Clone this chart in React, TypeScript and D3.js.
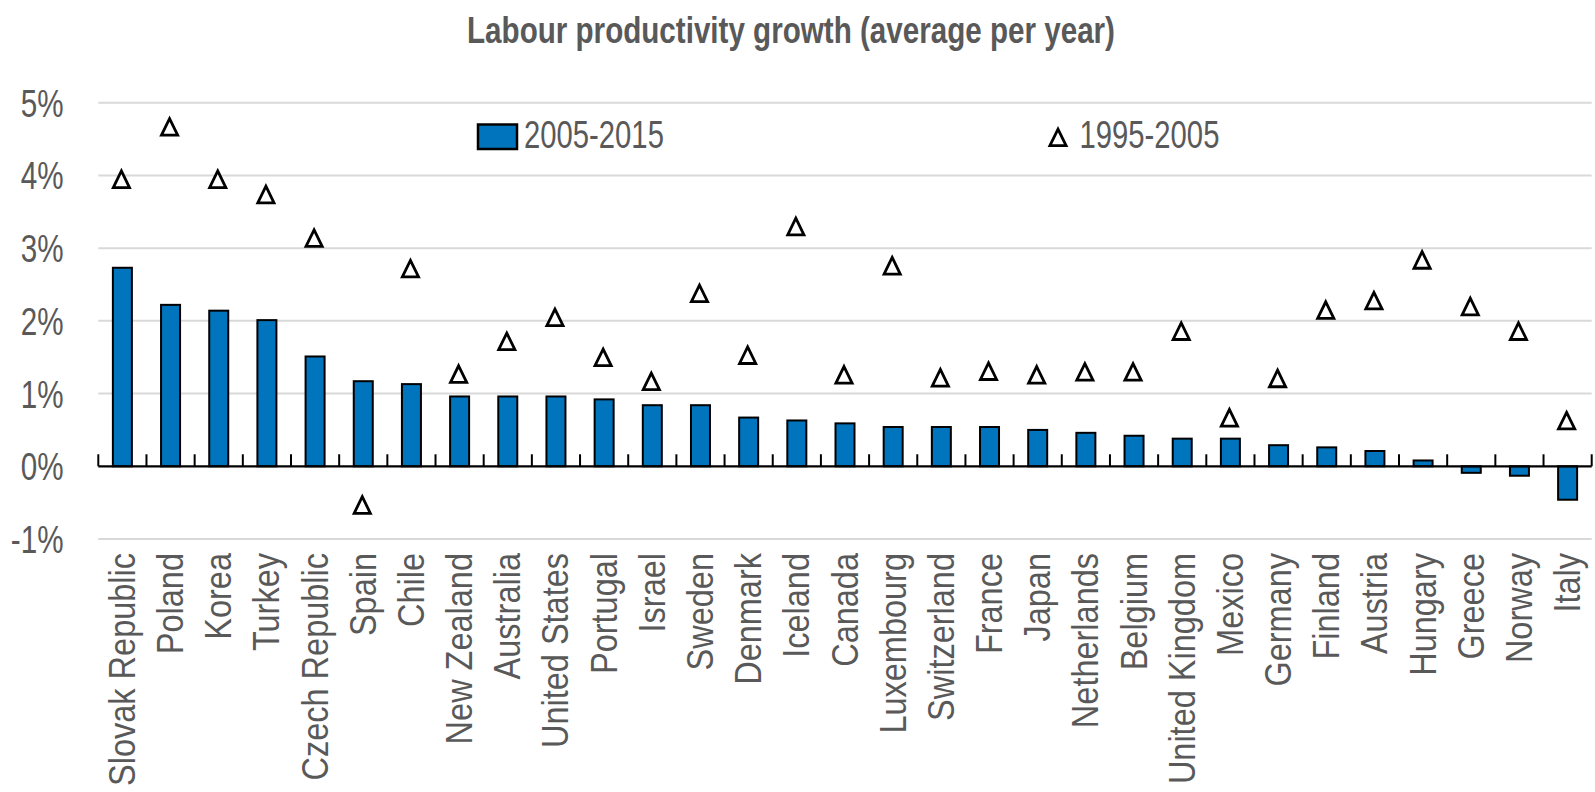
import React, { useEffect } from 'react';
import * as d3 from 'd3';

const categories = [
  'Slovak Republic', 'Poland', 'Korea', 'Turkey', 'Czech Republic', 'Spain', 'Chile',
  'New Zealand', 'Australia', 'United States', 'Portugal', 'Israel', 'Sweden', 'Denmark',
  'Iceland', 'Canada', 'Luxembourg', 'Switzerland', 'France', 'Japan', 'Netherlands',
  'Belgium', 'United Kingdom', 'Mexico', 'Germany', 'Finland', 'Austria', 'Hungary',
  'Greece', 'Norway', 'Italy',
];

const growth2005to2015 = [
  2.73, 2.22, 2.14, 2.01, 1.51, 1.17, 1.13, 0.96, 0.96, 0.96, 0.92, 0.84, 0.84, 0.67,
  0.63, 0.59, 0.54, 0.54, 0.54, 0.5, 0.46, 0.42, 0.38, 0.38, 0.29, 0.26, 0.21, 0.08,
  -0.09, -0.13, -0.46,
];

const growth1995to2005 = [
  3.96, 4.68, 3.96, 3.75, 3.15, -0.52, 2.73, 1.28, 1.73, 2.06, 1.51, 1.18, 2.39, 1.54,
  3.31, 1.27, 2.77, 1.23, 1.32, 1.27, 1.31, 1.31, 1.87, 0.68, 1.22, 2.16, 2.29, 2.85,
  2.21, 1.87, 0.64,
];

const yTicks = [-1, 0, 1, 2, 3, 4, 5];
const chartTitle = 'Labour productivity growth (average per year)';
const legendLabels = ['2005-2015', '1995-2005'];

const TEXT = '#595959';
const BAR = '#0075BE';
const FONT = '"Liberation Sans", Arial, sans-serif';

const triPath = 'M0,-7.4 L8.1,9.2 L-8.1,9.2 Z';

export default function App() {
  useEffect(() => {
    document.body.style.margin = '0';
    document.body.style.overflow = 'hidden';
  }, []);

  const W = 1595;
  const H = 792;
  const x = d3
    .scaleBand<string>()
    .domain(categories)
    .range([98.3, 1591.7])
    .paddingInner(0)
    .paddingOuter(0);
  const y = d3.scaleLinear().domain([-1, 5]).range([539, 102.7]);
  const bw = x.bandwidth();
  const barW = 19;
  const y0 = y(0);
  const boundaries = d3.range(categories.length + 1).map((i) => x.range()[0] + i * bw);

  return (
    <svg
      width={W}
      height={H}
      style={{ position: 'absolute', left: 0, top: 0, background: '#fff' }}
      fontFamily={FONT}
    >
      <rect x={0} y={0} width={W} height={H} fill="#fff" />
      {/* title */}
      <text
        transform={`translate(791,42.5) scale(0.8,1)`}
        textAnchor="middle"
        fontSize={37}
        fontWeight="bold"
        fill={TEXT}
      >
        {chartTitle}
      </text>

      {/* gridlines */}
      {yTicks
        .filter((t) => t !== 0)
        .map((t) => (
          <line
            key={'g' + t}
            x1={x.range()[0]}
            x2={x.range()[1]}
            y1={y(t)}
            y2={y(t)}
            stroke="#d9d9d9"
            strokeWidth={2}
          />
        ))}

      {/* y labels */}
      {yTicks.map((t) => (
        <text
          key={'yl' + t}
          transform={`translate(63.5,${y(t) + 14}) scale(0.76,1)`}
          textAnchor="end"
          fontSize={39}
          fill={TEXT}
        >
          {`${t}%`}
        </text>
      ))}

      {/* bars */}
      {categories.map((c, i) => {
        const v = growth2005to2015[i];
        const cx = (x(c) as number) + bw / 2;
        const top = Math.min(y(v), y0);
        const h = Math.abs(y(v) - y0);
        return (
          <rect
            key={'b' + c}
            x={cx - barW / 2}
            y={top}
            width={barW}
            height={h}
            fill={BAR}
            stroke="#000"
            strokeWidth={2}
          />
        );
      })}

      {/* axis */}
      <line x1={x.range()[0]} x2={x.range()[1]} y1={y0} y2={y0} stroke="#000" strokeWidth={2.2} />
      {boundaries.map((bx, i) => (
        <line key={'t' + i} x1={bx} x2={bx} y1={y0} y2={y0 - 12} stroke="#000" strokeWidth={2} />
      ))}

      {/* triangles */}
      {categories.map((c, i) => {
        const cx = (x(c) as number) + bw / 2;
        return (
          <path
            key={'m' + c}
            d={triPath}
            transform={`translate(${cx - 1},${y(growth1995to2005[i])})`}
            fill="#fff"
            stroke="#000"
            strokeWidth={2.8}
          />
        );
      })}

      {/* x labels */}
      {categories.map((c) => {
        const cx = (x(c) as number) + bw / 2;
        return (
          <text
            key={'xl' + c}
            transform={`translate(${cx + 12.5},553) rotate(-90) scale(0.89,1)`}
            textAnchor="end"
            fontSize={36.5}
            fill={TEXT}
          >
            {c}
          </text>
        );
      })}

      {/* legend */}
      <rect x={478} y={124.5} width={39} height={24.5} fill={BAR} stroke="#000" strokeWidth={2.5} />
      <text transform="translate(524,148) scale(0.76,1)" fontSize={38.5} fill={TEXT}>
        {legendLabels[0]}
      </text>
      <path d={triPath} transform="translate(1058,136.5)" fill="#fff" stroke="#000" strokeWidth={2.8} />
      <text transform="translate(1079.5,148) scale(0.76,1)" fontSize={38.5} fill={TEXT}>
        {legendLabels[1]}
      </text>
    </svg>
  );
}
